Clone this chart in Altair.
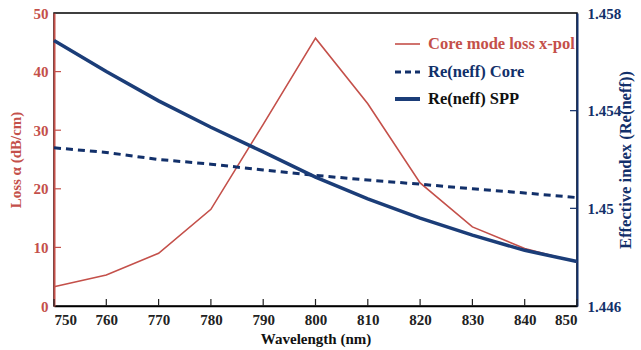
import altair as alt
import pandas as pd

wavelength = [750, 760, 770, 780, 790, 800, 810, 820, 830, 840, 850]
loss_xpol = [3.3, 5.3, 9.0, 16.5, 31.0, 45.7, 34.5, 21.0, 13.5, 9.8, 7.5]
neff_core = [1.45248, 1.45229, 1.45200, 1.45181, 1.45157, 1.45135, 1.45116, 1.45099, 1.45080, 1.45063, 1.45044]
neff_spp = [1.45687, 1.45560, 1.45440, 1.45332, 1.45231, 1.45128, 1.45039, 1.44960, 1.44890, 1.44828, 1.44782]

x_ticks = [750, 760, 770, 780, 790, 800, 810, 820, 830, 840, 850]
loss_ticks = [0, 10, 20, 30, 40, 50]
neff_ticks = [1.446, 1.45, 1.454, 1.458]

legend_labels = ["Core mode loss x-pol", "Re(neff) Core", "Re(neff) SPP"]

RED = "#c4504a"
NAVY = "#12306a"
FONT = "Liberation Serif"

df = pd.DataFrame({"wl": wavelength, "loss": loss_xpol, "core": neff_core, "spp": neff_spp})

xscale = alt.Scale(domain=[750, 850], nice=False, zero=False)
xaxis = alt.Axis(values=x_ticks, format="d", title="Wavelength (nm)", ticks=False,
                 domainColor="black", domainWidth=1.5, labelPadding=6, titlePadding=4,
                 labelColor="#222222", titleColor="#111111", grid=False)

lscale = alt.Scale(domain=[0, 50], nice=False)
laxis = alt.Axis(values=loss_ticks, title="Loss α (dB/cm)", ticks=False, grid=False,
                 domainColor=RED, domainWidth=2, labelColor=RED, titleColor=RED,
                 labelPadding=6, titlePadding=10, orient="left")

rscale = alt.Scale(domain=[1.446, 1.458], nice=False, zero=False)
raxis = alt.Axis(values=neff_ticks, title="Effective index (Re(neff))", ticks=False, grid=False,
                 domainColor=NAVY, domainWidth=2, labelColor=NAVY, titleColor=NAVY,
                 labelPadding=10, titlePadding=13, orient="right", format="~g",
                 titleAngle=270, titleBaseline="bottom", titleFontSize=16.5)

base = alt.Chart(df)

red_line = base.mark_line(color=RED, strokeWidth=1.6).encode(
    x=alt.X("wl:Q", scale=xscale, axis=xaxis),
    y=alt.Y("loss:Q", scale=lscale, axis=laxis),
)

xt = pd.DataFrame({"wl": x_ticks})
bottom_ticks = alt.Chart(xt).mark_rule(color="#222222", strokeWidth=1.2).encode(
    x=alt.X("wl:Q", scale=xscale, axis=xaxis),
    y=alt.value(293), y2=alt.value(286),
)

lt = pd.DataFrame({"loss": loss_ticks[1:-1]})
left_ticks = alt.Chart(lt).mark_rule(color=RED, strokeWidth=1.2).encode(
    y=alt.Y("loss:Q", scale=lscale, axis=laxis),
    x=alt.value(0), x2=alt.value(7),
)

left = alt.layer(red_line, bottom_ticks, left_ticks)

core_line = base.mark_line(color=NAVY, strokeWidth=3, strokeDash=[7, 5]).encode(
    x=alt.X("wl:Q", scale=xscale, axis=xaxis),
    y=alt.Y("core:Q", scale=rscale, axis=raxis),
)
spp_line = base.transform_calculate(core="datum.spp").mark_line(color="#1b3d78", strokeWidth=3.5).encode(
    x=alt.X("wl:Q", scale=xscale, axis=xaxis),
    y=alt.Y("core:Q", scale=rscale, axis=raxis),
)
rt = pd.DataFrame({"core": neff_ticks[1:-1]})
right_ticks = alt.Chart(rt).mark_rule(color=NAVY, strokeWidth=1.2).encode(
    y=alt.Y("core:Q", scale=rscale, axis=raxis),
    x=alt.value(523), x2=alt.value(516),
)

right = alt.layer(core_line, spp_line, right_ticks)

one = pd.DataFrame({"k": [0]})
leg_red = alt.Chart(one).mark_rule(color=RED, strokeWidth=1.6).encode(
    x=alt.value(341), x2=alt.value(366), y=alt.value(31))
leg_core = alt.Chart(one).mark_rule(color=NAVY, strokeWidth=3, strokeDash=[6, 4]).encode(
    x=alt.value(341), x2=alt.value(366), y=alt.value(59))
leg_spp = alt.Chart(one).mark_rule(color="#1b3d78", strokeWidth=4).encode(
    x=alt.value(341), x2=alt.value(366), y=alt.value(86))
txt_kw = dict(font=FONT, fontWeight="bold", fontSize=16.5, align="left", baseline="middle")
leg_t1 = alt.Chart(one).mark_text(color=RED, text=legend_labels[0], **txt_kw).encode(
    x=alt.value(374), y=alt.value(31))
leg_t2 = alt.Chart(one).mark_text(color=NAVY, text=legend_labels[1], **txt_kw).encode(
    x=alt.value(374), y=alt.value(59))
leg_t3 = alt.Chart(one).mark_text(color="#111111", text=legend_labels[2], **txt_kw).encode(
    x=alt.value(374), y=alt.value(86))

legend = alt.layer(leg_red, leg_core, leg_spp, leg_t1, leg_t2, leg_t3)

chart = alt.layer(left, right, legend).resolve_scale(y="independent").properties(
    width=523, height=293,
    autosize=alt.AutoSizeParams(type="none"),
    padding={"left": 54, "top": 13, "right": 64, "bottom": 44},
).configure_view(stroke="black", strokeWidth=1.5).configure_axis(
    labelFont=FONT, titleFont=FONT, labelFontWeight="bold", titleFontWeight="bold",
    labelFontSize=15, titleFontSize=15,
)

chart.save("out.html", embed_options={"renderer": "svg", "actions": False})
